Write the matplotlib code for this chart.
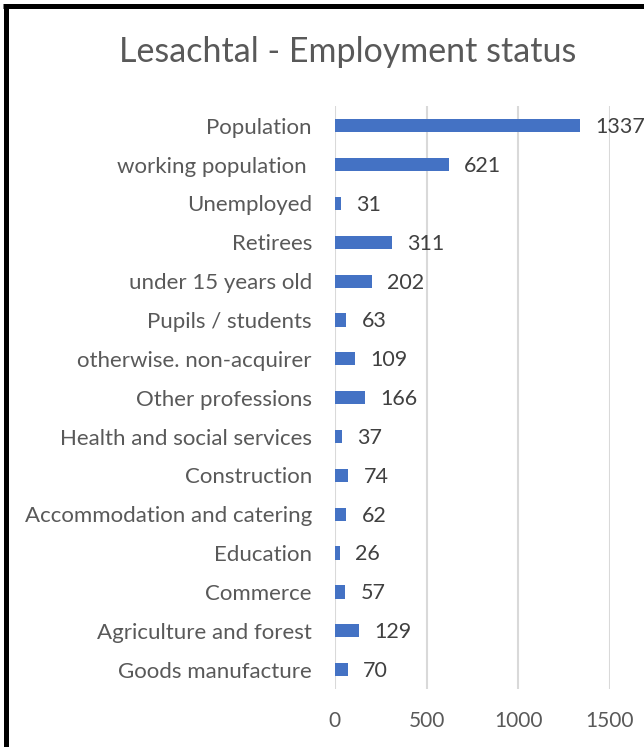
import matplotlib
matplotlib.use("Agg")
import matplotlib.pyplot as plt
from matplotlib.lines import Line2D

categories = ["Population", "working population ", "Unemployed", "Retirees",
              "under 15 years old", "Pupils / students", "otherwise. non-acquirer",
              "Other professions", "Health and social services", "Construction",
              "Accommodation and catering", "Education", "Commerce",
              "Agriculture and forest", "Goods manufacture"]
values = [1337, 621, 31, 311, 202, 63, 109, 166, 37, 74, 62, 26, 57, 129, 70]
x_ticks = [0, 500, 1000, 1500]
title = "Lesachtal - Employment status"

plt.rcParams['font.family'] = ['Lato', 'DejaVu Sans']

fig = plt.figure(figsize=(6.44, 7.47), dpi=100)
ax = fig.add_axes([0.520, 0.0776, 0.427, 0.780])

y = list(range(len(categories)))
ax.barh(y, values, height=0.34, color="#4472C4", zorder=3)
ax.set_ylim(len(categories) - 0.5, -0.5)
ax.set_xlim(0, 1500)
ax.set_yticks(y)
ax.set_yticklabels(categories, fontsize=16, color="#595959")
ax.set_xticks(x_ticks)
ax.set_xticklabels([str(t) for t in x_ticks], fontsize=15, color="#595959")
ax.tick_params(axis='y', length=0, pad=16.5)
ax.tick_params(axis='x', length=0, pad=16)
ax.grid(axis='x', color="#D9D9D9", linewidth=1.5, zorder=0)
ax.set_axisbelow(True)
for s in ax.spines.values():
    s.set_visible(False)

for yi, v in zip(y, values):
    ax.annotate(str(v), xy=(v, yi), xytext=(11, -1), textcoords='offset points',
                va='center', ha='left', fontsize=15.5, color="#404040",
                annotation_clip=False)

fig.text(0.540, 0.930, title, ha='center', va='center', fontsize=24.5, color="#595959")

# black frame on left and top edges
fig.add_artist(Line2D([5.5/644, 5.5/644], [0, 1 - 5.5/747], transform=fig.transFigure,
                      color='black', linewidth=3.6, solid_capstyle='butt'))
fig.add_artist(Line2D([3/644, 1], [1 - 5.5/747, 1 - 5.5/747], transform=fig.transFigure,
                      color='black', linewidth=3.6, solid_capstyle='butt'))

fig.savefig("out.png", dpi=100)
